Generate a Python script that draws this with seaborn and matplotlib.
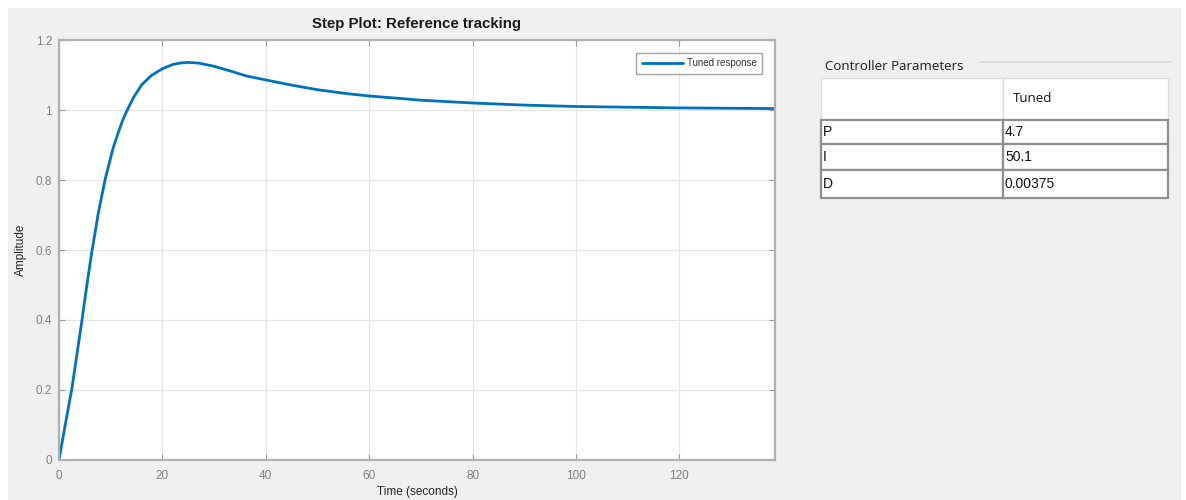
import pandas as pd
import numpy as np

import matplotlib.pyplot as plt
from matplotlib.patches import Rectangle
from matplotlib.lines import Line2D
import seaborn as sns

# step response
time = [0, 1.2, 2.5, 3.4, 4.4, 5.3, 6.3, 7.6, 8.9, 10.5, 11.5, 12.3, 13.1, 14.5, 16.0, 17.9,
        20.0, 22.0, 23.4, 25.0, 27.0, 30.0, 33.0, 36.3, 40.0, 45.0, 50.0, 55.0, 60.0,
        66.0, 70.0, 80.0, 90.0, 100.0, 110.0, 120.0, 130.0, 138.5]
amplitude = [0, 0.1, 0.205, 0.295, 0.395, 0.49, 0.59, 0.705, 0.8, 0.893, 0.937, 0.97, 0.997, 1.038, 1.072, 1.099,
             1.118, 1.130, 1.134, 1.136, 1.134, 1.125, 1.112, 1.097, 1.086, 1.071, 1.058, 1.048, 1.040,
             1.033, 1.028, 1.020, 1.014, 1.010, 1.008, 1.006, 1.005, 1.004]

x_ticks = [0, 20, 40, 60, 80, 100, 120]
y_ticks = [0, 0.2, 0.4, 0.6, 0.8, 1.0, 1.2]
y_tick_labels = ['0', '0.2', '0.4', '0.6', '0.8', '1', '1.2']

param_names = ['P', 'I', 'D']
param_values = ['4.7', '50.1', '0.00375']
column_header = 'Tuned'

data = pd.DataFrame({'Time': time, 'Amplitude': amplitude})

sns.set_style('ticks')
plt.rcParams['font.family'] = ['Liberation Sans', 'DejaVu Sans']

fig = plt.figure(figsize=(11.86, 5), dpi=100)
fig.patch.set_facecolor('white')
# gray window panel
fig.add_artist(Rectangle((8 / 1186, 0), (1181 - 8) / 1186, (500 - 8) / 500,
                         transform=fig.transFigure, facecolor='#f0f0f0',
                         edgecolor='none', zorder=-10))

ax = fig.add_axes([59 / 1186, 40 / 500, (775 - 59) / 1186, 420 / 500])
ax.set_facecolor('white')
sns.lineplot(x='Time', y='Amplitude', data=data, ax=ax, color='#0072BD',
             linewidth=2.0, label='Tuned response')

ax.set_xlim(0, 138.5)
ax.set_ylim(0, 1.2)
ax.set_xticks(x_ticks)
ax.set_yticks(y_ticks)
ax.set_yticklabels(y_tick_labels)
ax.grid(True, color='#e6e6e6', linewidth=0.9)
ax.set_axisbelow(True)
for s in ax.spines.values():
    s.set_visible(True)
    s.set_color('#b0b0b0')
    s.set_linewidth(1.6)
ax.tick_params(direction='in', length=4, width=0.8, color='#9a9a9a',
               top=True, right=True, labelcolor='#808080', labelsize=8.5)
ax.tick_params(axis='x', pad=7)
ax.tick_params(axis='y', pad=5)

ax.set_title('Step Plot: Reference tracking', fontsize=10.8, fontweight='bold',
             color='#1a1a1a', pad=9)
ax.set_xlabel('Time (seconds)', fontsize=8.5, color='#262626', labelpad=3)
ax.set_ylabel('Amplitude', fontsize=8.5, color='#262626', labelpad=6)

leg = ax.legend(loc='upper right', fontsize=7, frameon=True, fancybox=False,
                handlelength=4.2, handletextpad=0.4, borderaxespad=1.3,
                borderpad=0.6)
leg.get_frame().set_edgecolor('#8c8c8c')
leg.get_frame().set_linewidth(1.0)
for t in leg.get_texts():
    t.set_color('#333333')

# controller parameters panel
fig.text(825 / 1186, 1 - 66 / 500, 'Controller Parameters', fontsize=9.5,
         family=['Open Sans', 'DejaVu Sans'], color='#1a1a1a', va='center', ha='left')
fig.add_artist(Line2D([980 / 1186, 1171 / 1186], [1 - 62 / 500, 1 - 62 / 500],
                      transform=fig.transFigure, color='#d9d9d9', linewidth=1.2))

tax = fig.add_axes([821 / 1186, 1 - 198 / 500, (1168 - 821) / 1186, (198 - 78) / 500])
tax.axis('off')
cell_text = [[n, v] for n, v in zip(param_names, param_values)]
table = tax.table(cellText=cell_text, colLabels=['', column_header],
                  colWidths=[182, 165], cellLoc='left', colLoc='left', bbox=[0, 0, 1, 1])
table.auto_set_font_size(False)
row_heights = [42, 24, 26, 28]
for (r, c), cell in table.get_celld().items():
    cell.set_height(row_heights[r])
    cell.PAD = 0.012
    cell.set_facecolor('white')
    txt = cell.get_text()
    txt.set_fontsize(10)
    txt.set_color('#111111')
    if r == 0:
        cell.set_edgecolor('#dcdcdc')
        cell.set_linewidth(1.0)
        txt.set_family(['Open Sans', 'DejaVu Sans'])
        txt.set_fontsize(9.5)
        if c == 1:
            cell.PAD = 0.06
    else:
        cell.set_edgecolor('#8f8f8f')
        cell.set_linewidth(1.6)

fig.savefig('out.png', dpi=100, facecolor=fig.get_facecolor())
